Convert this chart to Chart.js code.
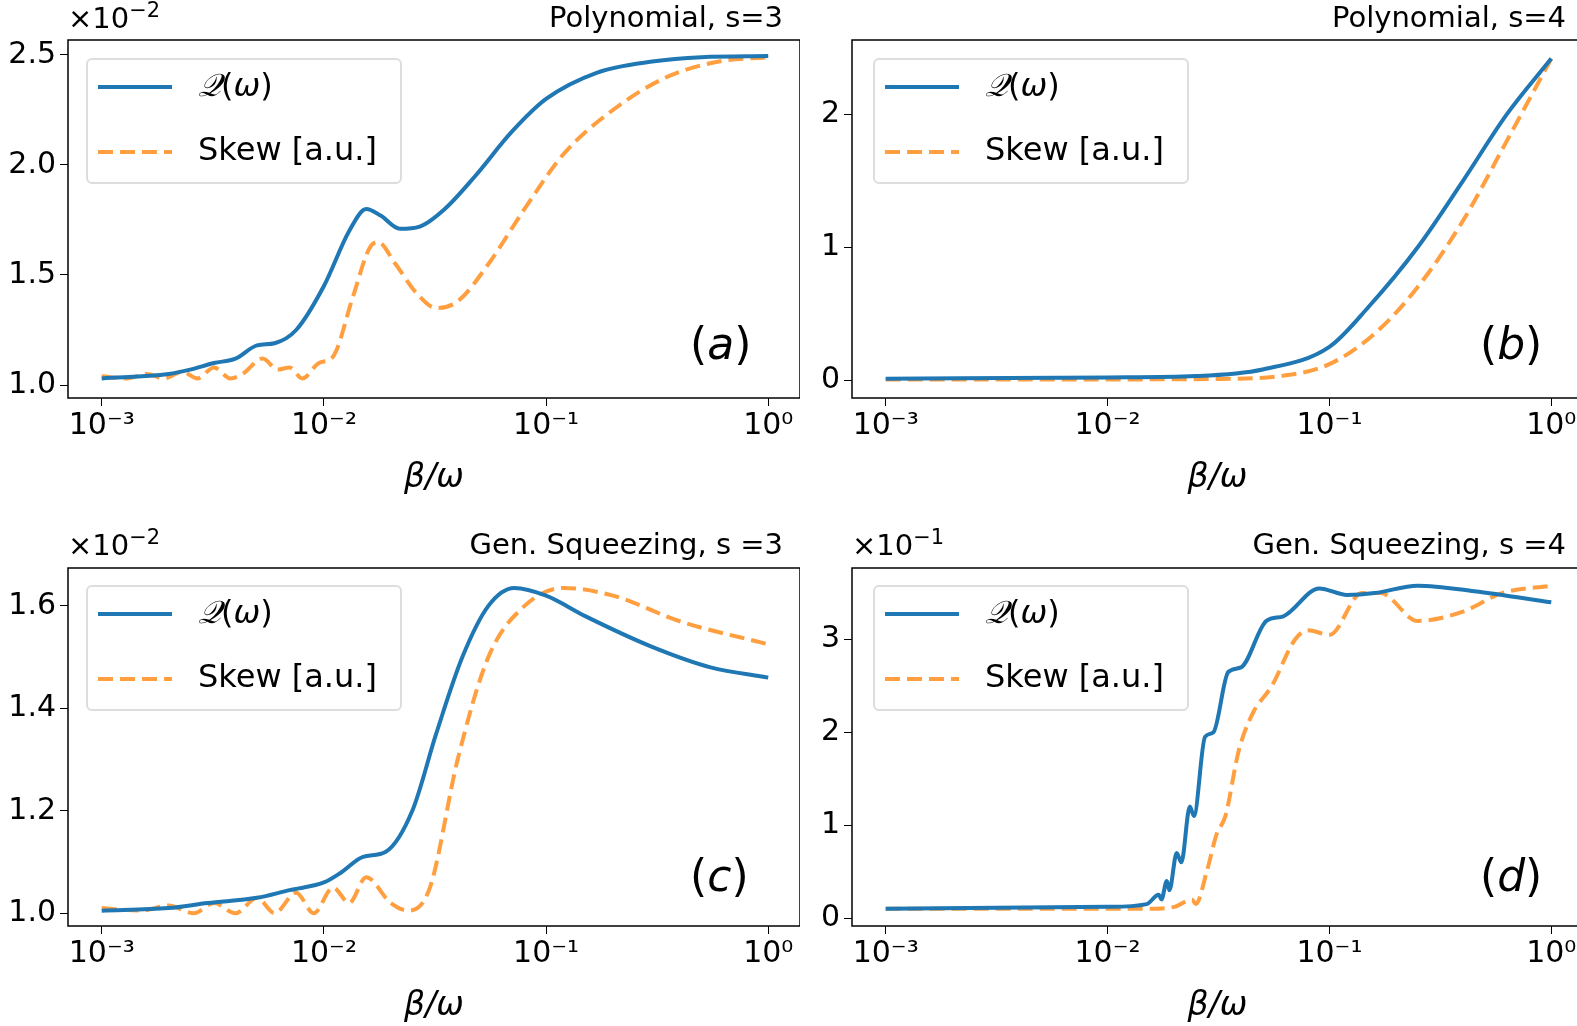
<!DOCTYPE html>
<html>
<head>
<meta charset="utf-8">
<script src="https://cdn.jsdelivr.net/npm/chart.js@4"></script>
<style>
  body { margin: 0; width: 1577px; height: 1026px; background: #fff; position: relative; font-family: "DejaVu Sans", sans-serif; overflow: hidden; }
  canvas { position: absolute; }
  .txt { position: absolute; font-size: 29px; color: #000; white-space: nowrap; }
  .legend { position: absolute; border: 2px solid #ddd; border-radius: 6px; background: rgba(255,255,255,0.8); width: 312px; height: 122px; }
  .legend div { position: absolute; left: 110px; font-size: 32px; }
  .legend span { position: absolute; left: 10px; width: 74px; height: 4px; }
  .solid { background: #1f77b4; }
  .dash { background: repeating-linear-gradient(90deg, #ff9f40 0 15px, transparent 15px 22px); }
  .tag { position: absolute; font-size: 44px; }
</style>
</head>
<body>
<canvas id="ca"></canvas><canvas id="cb"></canvas><canvas id="cc"></canvas><canvas id="cd"></canvas>

<script>
// Panel (a): Polynomial, s=3 (values in units of 1e-2)
const aQx = [1e-3, 2e-3, 2.5e-3, 3.2e-3, 4e-3, 5e-3, 6e-3, 7.5e-3, 1e-2, 1.3e-2, 1.55e-2, 1.8e-2, 2.2e-2, 2.7e-2, 3.5e-2, 4.8e-2, 7e-2, 0.1, 0.17, 0.3, 0.5, 1];
const aQy = [1.03, 1.05, 1.07, 1.10, 1.12, 1.18, 1.19, 1.25, 1.45, 1.70, 1.80, 1.77, 1.71, 1.72, 1.80, 1.95, 2.15, 2.30, 2.42, 2.47, 2.49, 2.495];
const aSx = [1e-3, 1.3e-3, 1.6e-3, 1.9e-3, 2.3e-3, 2.7e-3, 3.2e-3, 3.8e-3, 4.3e-3, 5.3e-3, 6.2e-3, 7e-3, 8e-3, 9.5e-3, 1.1e-2, 1.35e-2, 1.6e-2, 1.75e-2, 2.1e-2, 2.6e-2, 3.2e-2, 4e-2, 5.5e-2, 8e-2, 0.12, 0.2, 0.35, 0.6, 1];
const aSy = [1.04, 1.03, 1.05, 1.03, 1.06, 1.03, 1.08, 1.03, 1.05, 1.12, 1.07, 1.08, 1.03, 1.10, 1.13, 1.40, 1.62, 1.65, 1.55, 1.42, 1.35, 1.38, 1.55, 1.80, 2.05, 2.25, 2.40, 2.47, 2.49];

// Panel (b): Polynomial, s=4
const bQx = [1e-3, 1e-2, 2.5e-2, 5e-2, 0.1, 0.15, 0.25, 0.4, 0.63, 1];
const bQy = [0.01, 0.02, 0.03, 0.08, 0.25, 0.55, 1.0, 1.5, 2.0, 2.42];
const bSx = [1e-3, 1e-2, 3e-2, 6e-2, 0.1, 0.16, 0.25, 0.4, 0.63, 1];
const bSy = [0.005, 0.005, 0.008, 0.03, 0.12, 0.35, 0.7, 1.2, 1.8, 2.42];

// Panel (c): Gen. Squeezing, s=3 (units of 1e-2)
const cQx = [1e-3, 2e-3, 3e-3, 5e-3, 7e-3, 1e-2, 1.2e-2, 1.5e-2, 1.9e-2, 2.5e-2, 3.2e-2, 4.2e-2, 5.5e-2, 7.2e-2, 0.1, 0.15, 0.3, 0.55, 1];
const cQy = [1.005, 1.01, 1.02, 1.03, 1.045, 1.06, 1.08, 1.11, 1.12, 1.20, 1.35, 1.50, 1.60, 1.635, 1.62, 1.58, 1.52, 1.48, 1.46];
const cSx = [1e-3, 1.5e-3, 2e-3, 2.6e-3, 3.2e-3, 4e-3, 5e-3, 6e-3, 7.5e-3, 9e-3, 1.1e-2, 1.3e-2, 1.55e-2, 2e-2, 2.4e-2, 3e-2, 4e-2, 5.5e-2, 8e-2, 0.12, 0.2, 0.4, 1];
const cSy = [1.01, 1.005, 1.015, 1.0, 1.02, 1.0, 1.03, 1.0, 1.04, 1.0, 1.05, 1.02, 1.07, 1.02, 1.005, 1.05, 1.30, 1.50, 1.60, 1.635, 1.62, 1.57, 1.525];

// Panel (d): Gen. Squeezing, s=4 (units of 1e-1)
const dQx = [1e-3, 1e-2, 1.5e-2, 1.7e-2, 1.75e-2, 1.85e-2, 1.9e-2, 2.05e-2, 2.15e-2, 2.35e-2, 2.45e-2, 2.75e-2, 3e-2, 3.5e-2, 4e-2, 5.2e-2, 6.2e-2, 9e-2, 0.12, 0.16, 0.25, 0.45, 1];
const dQy = [0.1, 0.12, 0.15, 0.25, 0.2, 0.4, 0.3, 0.7, 0.6, 1.2, 1.1, 1.95, 2.0, 2.65, 2.7, 3.2, 3.25, 3.55, 3.48, 3.5, 3.58, 3.52, 3.4];
const dSx = [1e-3, 1.5e-2, 2e-2, 2.4e-2, 2.5e-2, 2.8e-2, 3.1e-2, 3.4e-2, 3.9e-2, 4.5e-2, 5.5e-2, 7e-2, 8e-2, 0.1, 0.14, 0.17, 0.25, 0.4, 0.6, 1];
const dSy = [0.1, 0.1, 0.12, 0.2, 0.15, 0.5, 0.9, 1.1, 1.8, 2.2, 2.5, 3.0, 3.1, 3.05, 3.5, 3.5, 3.2, 3.3, 3.5, 3.58];

const xTicks = [1e-3, 1e-2, 1e-1, 1];
const xTickLabels = ['10⁻³', '10⁻²', '10⁻¹', '10⁰'];

const panels = [
  { id: 'ca', left: 0, top: 18, w: 800, yw: 68, Q: [aQx, aQy], S: [aSx, aSy], ymin: 0.941, ymax: 2.568, yt: [1.0, 1.5, 2.0, 2.5], yl: ['1.0', '1.5', '2.0', '2.5'] },
  { id: 'cb', left: 788, top: 18, w: 795, yw: 64, Q: [bQx, bQy], S: [bSx, bSy], ymin: -0.135, ymax: 2.56, yt: [0, 1, 2], yl: ['0', '1', '2'] },
  { id: 'cc', left: 0, top: 546, w: 800, yw: 68, Q: [cQx, cQy], S: [cSx, cSy], ymin: 0.975, ymax: 1.674, yt: [1.0, 1.2, 1.4, 1.6], yl: ['1.0', '1.2', '1.4', '1.6'] },
  { id: 'cd', left: 788, top: 546, w: 795, yw: 64, Q: [dQx, dQy], S: [dSx, dSy], ymin: -0.086, ymax: 3.77, yt: [0, 1, 2, 3], yl: ['0', '1', '2', '3'] }
];

const frame = {
  id: 'frame',
  afterDraw(chart) {
    const a = chart.chartArea, ctx = chart.ctx;
    ctx.save();
    ctx.strokeStyle = '#000';
    ctx.lineWidth = 1.5;
    ctx.strokeRect(a.left, a.top, a.right - a.left, a.bottom - a.top);
    ctx.restore();
  }
};

function pts(xs, ys) { return xs.map((x, i) => ({ x: x, y: ys[i] })); }

panels.forEach(p => {
  const cv = document.getElementById(p.id);
  cv.style.left = p.left + 'px';
  cv.style.top = p.top + 'px';
  cv.style.width = p.w + 'px';
  cv.style.height = '480px';
  new Chart(cv, {
    type: 'line',
    data: {
      datasets: [
        { data: pts(p.Q[0], p.Q[1]), borderColor: '#1f77b4', borderWidth: 4, pointRadius: 0, cubicInterpolationMode: 'monotone' },
        { data: pts(p.S[0], p.S[1]), borderColor: '#ff9f40', borderWidth: 4, borderDash: [15, 7], pointRadius: 0, cubicInterpolationMode: 'monotone' }
      ]
    },
    options: {
      responsive: false, animation: false,
      layout: { padding: 0 },
      plugins: { legend: { display: false }, tooltip: { enabled: false } },
      scales: {
        x: {
          type: 'logarithmic', min: 7.05e-4, max: 1.39,
          afterBuildTicks: s => { s.ticks = xTicks.map(v => ({ value: v })); },
          afterFit: s => { s.height = 100; },
          grid: { drawOnChartArea: false, tickLength: 8, color: '#000' },
          border: { display: false },
          ticks: { color: '#000', font: { size: 30, family: 'DejaVu Sans' }, maxRotation: 0, padding: 2,
                   callback: (v) => xTickLabels[xTicks.indexOf(v)] },
          title: { display: true, text: 'β/ω', color: '#000', font: { size: 33, style: 'italic', family: 'DejaVu Sans' }, padding: 0 }
        },
        y: {
          min: p.ymin, max: p.ymax,
          afterBuildTicks: s => { s.ticks = p.yt.map(v => ({ value: v })); },
          afterFit: s => { s.width = p.yw; },
          grid: { drawOnChartArea: false, tickLength: 8, color: '#000' },
          border: { display: false },
          ticks: { color: '#000', font: { size: 30, family: 'DejaVu Sans' }, padding: 4,
                   callback: (v) => p.yl[p.yt.indexOf(v)] }
        }
      }
    },
    plugins: [frame]
  });
});
</script>

<!-- titles, offsets, legends, panel tags -->
<div class="txt" style="left:68px;top:-2px">×10<sup style="font-size:21px">−2</sup></div>
<div class="txt" style="right:794px;top:0px">Polynomial, s=3</div>
<div class="txt" style="right:11px;top:0px">Polynomial, s=4</div>
<div class="txt" style="left:68px;top:525px">×10<sup style="font-size:21px">−2</sup></div>
<div class="txt" style="right:794px;top:527px">Gen. Squeezing, s =3</div>
<div class="txt" style="left:852px;top:525px">×10<sup style="font-size:21px">−1</sup></div>
<div class="txt" style="right:11px;top:527px">Gen. Squeezing, s =4</div>

<div class="legend" style="left:86px;top:58px"><span class="solid" style="top:25px"></span><div style="top:6px"><i>𝒬</i>(<i>ω</i>)</div><span class="dash" style="top:90px"></span><div style="top:70px">Skew [a.u.]</div></div>
<div class="legend" style="left:873px;top:58px"><span class="solid" style="top:25px"></span><div style="top:6px"><i>𝒬</i>(<i>ω</i>)</div><span class="dash" style="top:90px"></span><div style="top:70px">Skew [a.u.]</div></div>
<div class="legend" style="left:86px;top:585px"><span class="solid" style="top:25px"></span><div style="top:6px"><i>𝒬</i>(<i>ω</i>)</div><span class="dash" style="top:90px"></span><div style="top:70px">Skew [a.u.]</div></div>
<div class="legend" style="left:873px;top:585px"><span class="solid" style="top:25px"></span><div style="top:6px"><i>𝒬</i>(<i>ω</i>)</div><span class="dash" style="top:90px"></span><div style="top:70px">Skew [a.u.]</div></div>

<div class="tag" style="left:690px;top:318px">(<i>a</i>)</div>
<div class="tag" style="left:1480px;top:318px">(<i>b</i>)</div>
<div class="tag" style="left:690px;top:850px">(<i>c</i>)</div>
<div class="tag" style="left:1480px;top:850px">(<i>d</i>)</div>
</body>
</html>
